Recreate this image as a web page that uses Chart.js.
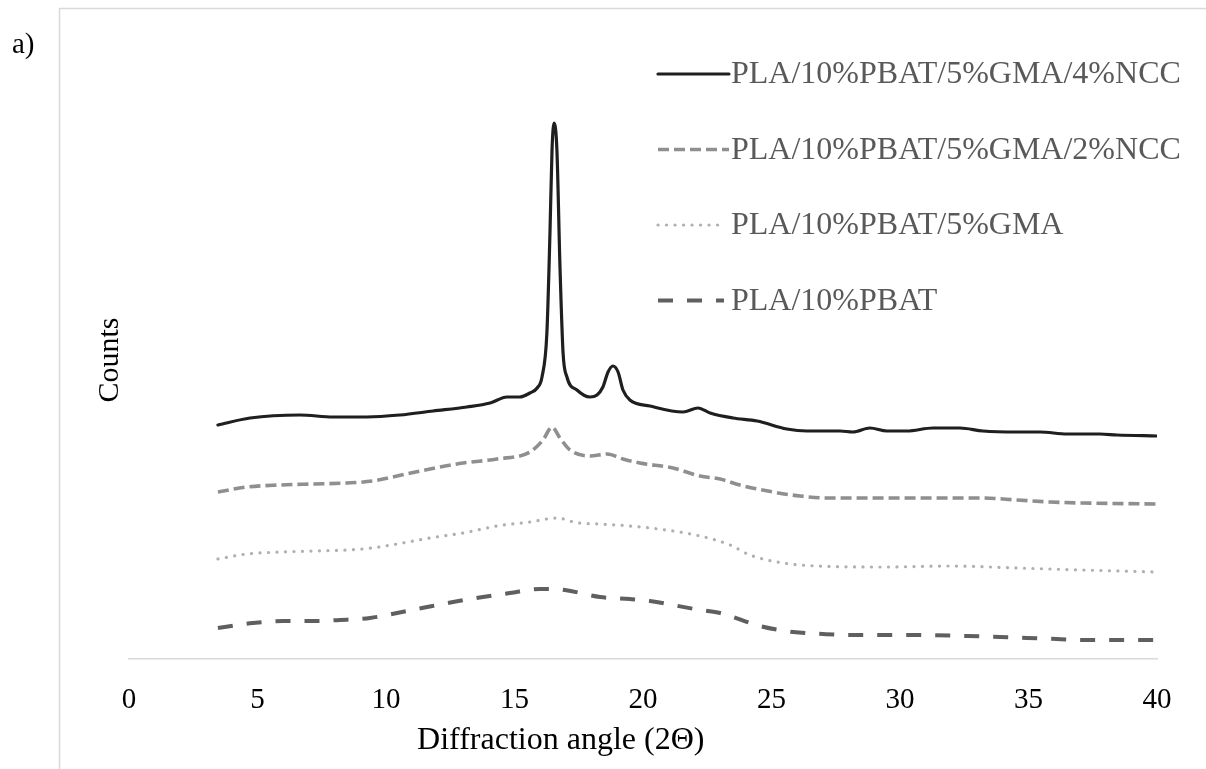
<!DOCTYPE html>
<html>
<head>
<meta charset="utf-8">
<title>XRD patterns</title>
<script src="https://cdn.jsdelivr.net/npm/chart.js@4.4.1/dist/chart.umd.min.js"></script>
<style>
  html, body { margin: 0; padding: 0; background: #ffffff; }
  #wrap { width: 1206px; height: 769px; position: relative; }
</style>
</head>
<body>
<div id="wrap"><canvas id="xrdChart" width="1206" height="769"></canvas></div>
<script>
// ======================================
// Data (arbitrary count units)
// ======================================

const seriesLabels = [
  "PLA/10%PBAT/5%GMA/4%NCC",
  "PLA/10%PBAT/5%GMA/2%NCC",
  "PLA/10%PBAT/5%GMA",
  "PLA/10%PBAT",
];

const xTicks = [0, 5, 10, 15, 20, 25, 30, 35, 40];
const xTitle = "Diffraction angle (2Θ)";

const ncc4Angle = [3.46, 4.71, 6.65, 7.94, 9.26, 10.54, 11.83, 13.15, 14.05, 14.71, 15.21, 15.6, 15.88, 16.07, 16.26, 16.38, 16.46, 16.54, 16.65, 16.77, 16.89, 17.04, 17.43, 17.94, 18.21, 18.44, 18.64, 18.83, 19.03, 19.22, 19.49, 20.27, 21.56, 22.14, 22.61, 23.5, 24.44, 25.6, 26.38, 27.67, 28.17, 28.83, 29.49, 30.27, 31.28, 32.33, 33.23, 34.55, 35.45, 36.5, 37.78, 38.44, 40];
const ncc4Counts = [234, 241, 244, 242, 242, 244, 248, 252, 256, 262, 262, 266, 271, 282, 326, 426, 509, 536, 509, 392, 306, 282, 269, 262, 264, 272, 287, 293, 287, 269, 259, 253, 247, 251, 246, 241, 238, 230, 228, 228, 227, 231, 228, 228, 231, 231, 228, 227, 227, 225, 225, 224, 223];

const ncc2Angle = [3.46, 4.59, 5.88, 7.16, 8.48, 9.49, 10.43, 11.71, 13.0, 14.32, 15.6, 16.11, 16.46, 16.77, 17.16, 17.94, 18.6, 19.22, 19.88, 21.17, 22.22, 23.0, 23.77, 25.06, 26.11, 27.16, 28.95, 31.28, 33.23, 34.55, 35.84, 37.12, 40];
const ncc2Counts = [167, 172, 174, 175, 176, 178, 183, 190, 196, 200, 207, 219, 232, 221, 209, 203, 205, 200, 196, 191, 183, 180, 174, 167, 163, 161, 161, 161, 161, 159, 157, 156, 155];

const gmaAngle = [3.46, 4.59, 5.88, 7.16, 8.48, 9.46, 10.43, 11.71, 13.0, 14.32, 15.6, 16.65, 17.47, 18.33, 20.27, 22.22, 23.39, 24.16, 25.45, 26.77, 29.34, 31.95, 34.55, 37.12, 40];
const gmaCounts = [100, 105, 107, 108, 109, 111, 115, 121, 126, 133, 137, 141, 136, 135, 131, 123, 114, 104, 96, 93, 92, 93, 91, 89, 87];

const pbatAngle = [3.46, 4.82, 5.99, 7.16, 8.21, 9.38, 10.43, 11.6, 12.61, 13.77, 14.82, 15.99, 16.5, 16.96, 18.33, 19.49, 20.27, 22.22, 23.0, 24.55, 25.84, 27.0, 28.05, 30.66, 32.61, 33.89, 34.94, 36.11, 37.12, 40];
const pbatCounts = [31, 36, 38, 38, 39, 41, 46, 52, 57, 62, 66, 70, 70, 69, 62, 60, 58, 49, 46, 33, 27, 25, 24, 24, 23, 22, 21, 20, 19, 19];

// ======================================
// Styles
// ======================================

const SERIF = "'Liberation Serif', 'Times New Roman', serif";
const lineColors = ["#1f1f1f", "#8f8f8f", "#b0b0b0", "#5f5f5f"];
const lineWidths = [3.2, 3.6, 3.2, 4];
const lineDashes = [[], [11, 5], [0.1, 8.4], [15, 14]];
const lineCaps = ["round", "butt", "round", "butt"];

function toPoints(xs, ys) {
  return xs.map((x, i) => ({ x, y: ys[i] }));
}

const seriesPoints = [
  toPoints(ncc4Angle, ncc4Counts),
  toPoints(ncc2Angle, ncc2Counts),
  toPoints(gmaAngle, gmaCounts),
  toPoints(pbatAngle, pbatCounts),
];

// ======================================
// Plugins: frame, panel label, x title, inline legend
// ======================================

const framePlugin = {
  id: "frame",
  beforeDraw(chart) {
    const ctx = chart.ctx;
    ctx.save();
    ctx.fillStyle = "#ffffff";
    ctx.fillRect(0, 0, chart.width, chart.height);
    ctx.strokeStyle = "#d9d9d9";
    ctx.lineWidth = 1.5;
    ctx.beginPath();
    ctx.moveTo(59.5, chart.height);
    ctx.lineTo(59.5, 8.5);
    ctx.lineTo(chart.width, 8.5);
    ctx.stroke();

    ctx.fillStyle = "#000000";
    ctx.font = "29px " + SERIF;
    ctx.textBaseline = "middle";
    ctx.fillText("a)", 12, 45);

    // axis title sits a little left of the axis centre in the original
    const xScale = chart.scales.x;
    ctx.font = "32px " + SERIF;
    ctx.textAlign = "center";
    ctx.fillText(xTitle, xScale.getPixelForValue(16.8), 741);
    ctx.restore();
  },
};

const inlineLegend = {
  id: "inlineLegend",
  afterDatasetsDraw(chart) {
    const ctx = chart.ctx;
    const area = chart.chartArea;
    ctx.save();
    chart.data.datasets.forEach((ds, i) => {
      const y = area.top + 13 + i * 75.5;
      const x0 = area.left + 529;
      const x1 = area.left + (i >= 2 ? 595 : 600);
      ctx.strokeStyle = ds.borderColor;
      ctx.lineWidth = ds.borderWidth;
      ctx.lineCap = ds.borderCapStyle;
      ctx.setLineDash(ds.borderDash);
      ctx.beginPath();
      ctx.moveTo(x0, y);
      ctx.lineTo(x1, y);
      ctx.stroke();

      ctx.setLineDash([]);
      ctx.fillStyle = "#595959";
      ctx.font = "32px " + SERIF;
      ctx.textBaseline = "middle";
      ctx.fillText(ds.label, area.left + 602, y + 1);
    });
    ctx.restore();
  },
};

// ======================================
// Chart
// ======================================

const ctx = document.getElementById("xrdChart");

new Chart(ctx, {
  type: "line",
  data: {
    datasets: seriesLabels.map((label, i) => ({
      label,
      data: seriesPoints[i],
      borderColor: lineColors[i],
      borderWidth: lineWidths[i],
      borderDash: lineDashes[i],
      borderCapStyle: lineCaps[i],
      borderJoinStyle: "round",
      pointRadius: 0,
      fill: false,
      cubicInterpolationMode: "monotone",
    })),
  },
  options: {
    responsive: false,
    animation: false,
    events: [],
    layout: { padding: { left: 88, right: 49, top: 61, bottom: 0 } },
    plugins: {
      legend: { display: false },
      tooltip: { enabled: false },
    },
    scales: {
      x: {
        type: "linear",
        min: 0,
        max: 40,
        afterBuildTicks: (axis) => {
          axis.ticks = xTicks.map((v) => ({ value: v }));
        },
        afterFit: (axis) => {
          axis.height = 110;
        },
        grid: { display: false },
        border: { display: true, color: "#d9d9d9", width: 1.5 },
        ticks: {
          color: "#000000",
          font: { family: SERIF, size: 29 },
          padding: 16,
          maxRotation: 0,
        },
        title: { display: false },
      },
      y: {
        min: 0,
        max: 598,
        afterFit: (axis) => {
          axis.width = 41;
        },
        grid: { display: false },
        border: { display: false },
        ticks: { display: false },
        title: {
          display: true,
          text: "Counts",
          color: "#000000",
          font: { family: SERIF, size: 30 },
          padding: { top: 4, bottom: 4 },
        },
      },
    },
  },
  plugins: [framePlugin, inlineLegend],
});
</script>
</body>
</html>
